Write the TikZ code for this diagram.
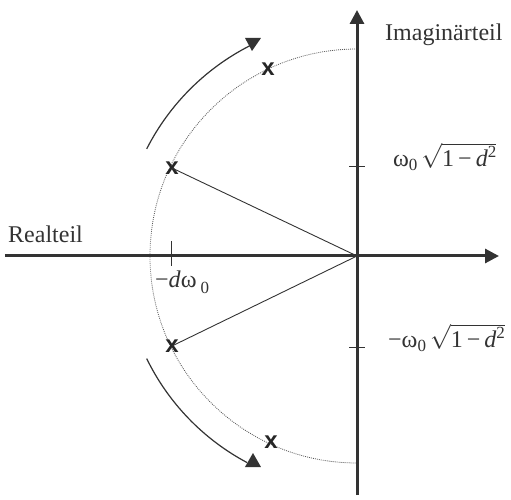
\documentclass[tikz,border=0pt]{standalone}
\usepackage{fontspec}
\setmainfont{Liberation Serif}
\setsansfont{Liberation Sans}
\usetikzlibrary{arrows.meta}
\newcommand{\lowzero}{\raisebox{-4pt}{\fontsize{17}{17}\selectfont 0}}
\newcommand{\rootpart}{$\sqrt{\mbox{1\,−\,\textit{d}\raisebox{9pt}{\fontsize{17}{17}\selectfont 2}}}$}
\begin{document}
\begin{tikzpicture}[x=1pt,y=1pt,
  axis/.style={line width=3pt, draw=black!80, -{Triangle[length=14pt,width=14pt]}},
  tick/.style={line width=1pt, draw=black!80},
  ray/.style={line width=0.9pt, draw=black!80},
  rotarc/.style={line width=1.2pt, draw=black!80},
  tip/.style={fill=black!80},
  pole/.style={inner sep=0pt, font=\sffamily\bfseries\fontsize{24}{24}\selectfont, text=black!85},
  lbl/.style={inner sep=0pt, anchor=base west, font=\fontsize{24}{28}\selectfont, text=black!80}]
\useasboundingbox (-357,-244) rectangle (154,256);
% dotted circle
\coordinate (ctop) at (0,207);
\draw[black!65, line width=0.8pt, dash pattern=on 0.9pt off 1.1pt] (ctop) arc[start angle=90, end angle=270, radius=207];
% axes
\coordinate (hl) at (-352,0);
\coordinate (hr) at (142,0);
\coordinate (vb) at (0,-239);
\coordinate (vt) at (0,246);
\coordinate (O) at (0,0);
\draw[axis] (hl) -- (hr);
\draw[axis] (vb) -- (vt);
% ticks
\coordinate (t1a) at (-8,89); \coordinate (t1b) at (8,89);
\coordinate (t2a) at (-8,-91); \coordinate (t2b) at (8,-91);
\coordinate (t3a) at (-185,15); \coordinate (t3b) at (-185,-10);
\draw[tick] (t1a) -- (t1b);
\draw[tick] (t2a) -- (t2b);
\draw[tick] (t3a) -- (t3b);
% poles
\node[pole] (p1) at (-185,88) {x};
\node[pole] (p2) at (-185,-90) {x};
\node[pole] (p3) at (-89,187) {x};
\node[pole] (p4) at (-86,-186) {x};
\draw[ray] (p1.center) -- (O);
\draw[ray] (p2.center) -- (O);
% direction arcs
\coordinate (a1) at (153:236);
\draw[rotarc] (a1) arc[start angle=153, end angle=116, radius=236];
\coordinate (a2) at (206:234);
\draw[rotarc] (a2) arc[start angle=206, end angle=242, radius=234];
\coordinate (h1a) at (-112,218); \coordinate (h1b) at (-96,218); \coordinate (h1c) at (-105,205);
\fill[tip] (h1a) -- (h1b) -- (h1c) -- cycle;
\coordinate (h2a) at (-112,-211); \coordinate (h2b) at (-96,-211); \coordinate (h2c) at (-104,-197);
\fill[tip] (h2a) -- (h2b) -- (h2c) -- cycle;
% labels
\node[lbl] (im) at (28,215) {Imaginärteil};
\node[lbl] (re) at (-349,13) {Realteil};
\node[lbl] (wp) at (36,89) {ω\lowzero\,\rootpart};
\node[lbl] (wm) at (31,-92) {−ω\lowzero\,\rootpart};
\node[lbl] (dw) at (-202,-32) {−\textit{d}ω\,\raisebox{-6pt}{\fontsize{17}{17}\selectfont 0}};
\end{tikzpicture}
\end{document}
